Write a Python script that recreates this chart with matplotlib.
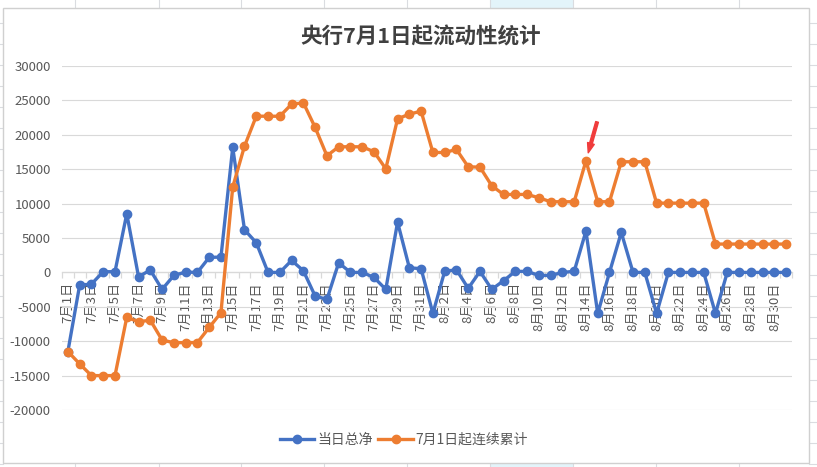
import matplotlib.pyplot as plt
from matplotlib.patches import Rectangle
from matplotlib.lines import Line2D

plt.rcParams['font.family'] = ['Noto Sans CJK SC', 'DejaVu Sans']

W, H = 817, 467

# 7月1日 - 8月31日
dates = [f'7月{d}日' for d in range(1, 32)] + [f'8月{d}日' for d in range(1, 32)]

daily_net = [-11500, -1840, -1700, 100, 100, 8520, -630, 340, -2470, -440,
             50, 0, 2180, 2230, 18160, 6200, 4310, 0, 0, 1740,
             240, -3440, -3920, 1400, 0, 0, -730, -2470, 7310, 680,
             530, -5960, 150, 390, -2320, 150, -2470, -1210, 150, 150,
             -440, -440, 0, 150, 6000, -5960, 0, 5810, 0, 0,
             -5960, 0, 0, 0, 0, -5960, 0, 0, 0, 0,
             0, 0]

cumulative = [-11500, -13300, -15000, -15000, -15000, -6540, -7170, -6950, -9830, -10220,
              -10200, -10200, -8000, -5860, 12400, 18350, 22710, 22700, 22700, 24450,
              24650, 21070, 16950, 18260, 18260, 18260, 17530, 15060, 22320, 23000,
              23440, 17430, 17430, 17870, 15350, 15300, 12590, 11330, 11330, 11330,
              10850, 10270, 10270, 10270, 16220, 10270, 10270, 16080, 16080, 16080,
              10070, 10070, 10070, 10070, 10070, 4120, 4120, 4120, 4120, 4120,
              4120, 4120]

y_ticks = list(range(-20000, 30001, 5000))

blue = '#4472C4'
orange = '#ED7D31'
grey = '#595959'
grid = '#D9D9D9'


def px(x, y):
    return x / W, 1 - y / H


fig = plt.figure(figsize=(W / 100, H / 100), dpi=100)

# spreadsheet background around the chart
cell_line = '#DADCE0'
fig.add_artist(Rectangle(px(490, 8), 83 / W, 8 / H, transform=fig.transFigure,
                         facecolor='#E3F4FA', edgecolor='none', zorder=-3))
fig.add_artist(Rectangle(px(490, 467), 83 / W, 4 / H, transform=fig.transFigure,
                         facecolor='#E3F4FA', edgecolor='none', zorder=-3))
for x in [75, 159, 241, 324, 407, 490, 573, 656, 739]:
    for y0, y1 in [(0, 8), (463, 467)]:
        a, b = px(x, y0)[1], px(x, y1)[1]
        fig.add_artist(Line2D([x / W, x / W], [a, b], color=cell_line, lw=0.8, zorder=-2))
for y in range(23, 467, 21):
    for x0, x1 in [(0, 3.5), (808.5, 817)]:
        fig.add_artist(Line2D([x0 / W, x1 / W], [px(0, y)[1]] * 2, color=cell_line, lw=0.8, zorder=-2))
fig.add_artist(Rectangle(px(3.5, 463), 805 / W, 455 / H, transform=fig.transFigure,
                         facecolor='white', edgecolor='#D0D0D0', lw=1, zorder=-1))

ax = fig.add_axes([62 / W, 1 - 410 / H, 730 / W, 344 / H])
ax.set_zorder(2)
ax.set_facecolor('none')
idx = list(range(len(dates)))

ax.plot(idx, daily_net, color=blue, lw=2.4, marker='o', markersize=6, label='当日总净', zorder=3)
ax.plot(idx, cumulative, color=orange, lw=2.4, marker='o', markersize=6, label='7月1日起连续累计', zorder=3)

ax.set_xlim(-0.5, len(dates) - 0.5)
ax.set_ylim(-20000, 30000)
ax.set_yticks(y_ticks)
ax.set_yticklabels([str(v) for v in y_ticks])
ax.grid(axis='y', color=grid, lw=0.8)
ax.set_axisbelow(True)

for s in ['top', 'right', 'left']:
    ax.spines[s].set_visible(False)
ax.spines['bottom'].set_position(('data', 0))
ax.spines['bottom'].set_color(grid)
ax.spines['bottom'].set_linewidth(0.9)

ax.set_xticks(idx[::2])
ax.set_xticklabels(dates[::2], rotation=90, fontsize=9.5, color=grey)
ax.set_xticks([i - 0.5 for i in range(len(dates) + 1)], minor=True)
ax.tick_params(axis='x', which='major', length=0, pad=7)
ax.tick_params(axis='x', which='minor', length=4, color=grid, width=0.9)
ax.tick_params(axis='y', length=0, labelsize=9.5, labelcolor=grey, pad=8)

# red arrow pointing at the 8月14日 value
peak = dates.index('8月14日')
ax.annotate('', xy=(peak, cumulative[peak]), xytext=(8, 28), textcoords='offset points',
            arrowprops=dict(arrowstyle='simple,head_length=0.7,head_width=0.5,tail_width=0.2',
                            color='#F03C3C', shrinkA=0, shrinkB=6), zorder=4)

fig.text(421 / W, 1 - 37 / H, '央行7月1日起流动性统计', ha='center', va='center',
         fontsize=15.5, fontweight='bold', color='#404040')

fig.legend(loc='center', bbox_to_anchor=(404 / W, 1 - 440 / H), ncol=2, frameon=False,
           fontsize=10, handlelength=2.5, handletextpad=0.2, columnspacing=0.4,
           labelcolor=grey)

fig.savefig('out.png', dpi=100)
